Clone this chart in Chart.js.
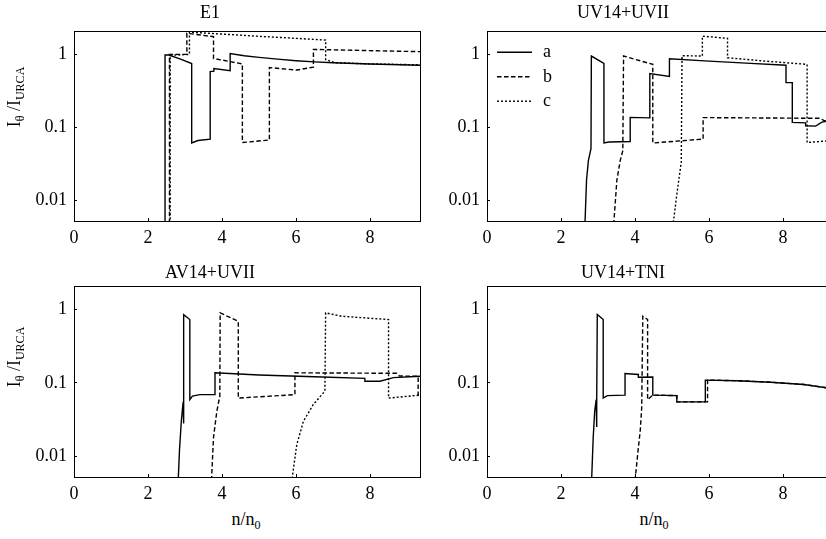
<!DOCTYPE html>
<html>
<head>
<meta charset="utf-8">
<script src="https://cdn.jsdelivr.net/npm/chart.js@4.4.0/dist/chart.umd.min.js"></script>
<style>
  html, body { margin: 0; padding: 0; background: #fff; overflow: hidden; }
  body { width: 826px; height: 539px; position: relative; font-family: "Liberation Serif", serif; color: #000; }
  canvas { position: absolute; }
  .ytitulo { position: absolute; font-size: 18px; line-height: 18px; white-space: nowrap;
             transform: translate(-50%, -50%) rotate(-90deg); }
  .xtitulo { position: absolute; font-size: 18px; line-height: 18px; white-space: nowrap;
             transform: translateX(-50%); }
  sub { font-size: 12px; vertical-align: -4px; line-height: 0; }
</style>
</head>
<body>
<canvas id="g1" width="421" height="249" style="left:0;top:0"></canvas>
<canvas id="g2" width="421" height="249" style="left:413px;top:0"></canvas>
<canvas id="g3" width="421" height="244" style="left:0;top:261px"></canvas>
<canvas id="g4" width="421" height="244" style="left:413px;top:261px"></canvas>

<div class="ytitulo" style="left:14px;top:97px">I<sub>θ</sub> /I<sub>URCA</sub></div>
<div class="ytitulo" style="left:14px;top:357px">I<sub>θ</sub> /I<sub>URCA</sub></div>
<div class="xtitulo" style="left:246px;top:510px">n/n<sub>0</sub></div>
<div class="xtitulo" style="left:654px;top:510px">n/n<sub>0</sub></div>

<script>
// curvas [n/n0, I_theta/I_URCA]
const e1A = [[2.46,0.002],[2.46,0.98],[2.56,0.98],[2.88,0.86],[3.18,0.75],[3.18,0.061],[3.35,0.066],[3.68,0.069],[3.68,0.58],[3.78,0.59],[3.78,0.64],[4.22,0.60],[4.22,1.03],[4.6,0.96],[5.0,0.91],[5.5,0.86],[6.0,0.82],[6.5,0.79],[7.0,0.77],[8.0,0.74],[9.35,0.71]];
const e1B = [[2.58,0.002],[2.58,1.0],[3.05,1.0],[3.05,1.95],[3.77,1.75],[3.77,0.88],[4.2,0.80],[4.55,0.74],[4.55,0.062],[5.28,0.067],[5.28,0.66],[6.02,0.61],[6.47,0.67],[6.47,1.17],[9.35,1.09]];
const e1C = [[2.60,0.002],[2.60,0.97],[3.12,1.0],[3.12,2.02],[4.0,1.90],[5.0,1.77],[6.0,1.66],[6.80,1.57],[6.80,0.85],[7.05,0.77],[8.0,0.74],[9.35,0.72]];

const uvA = [[2.64,0.003],[2.65,0.0052],[2.69,0.019],[2.74,0.035],[2.81,0.051],[2.82,0.95],[3.16,0.75],[3.16,0.061],[3.30,0.063],[3.87,0.064],[3.87,0.137],[4.40,0.135],[4.40,0.545],[4.93,0.50],[4.93,0.87],[6.0,0.81],[7.0,0.76],[8.08,0.71],[8.08,0.41],[8.25,0.41],[8.25,0.117],[8.61,0.115],[8.61,0.105],[8.88,0.104],[9.05,0.118],[9.35,0.125]];
const uvB = [[3.42,0.003],[3.43,0.0052],[3.51,0.019],[3.60,0.035],[3.67,0.048],[3.69,0.95],[4.48,0.73],[4.48,0.061],[5.84,0.069],[5.84,0.136],[9.0,0.133],[9.12,0.123],[9.35,0.122]];
const uvC = [[5.03,0.003],[5.04,0.0052],[5.12,0.011],[5.20,0.022],[5.25,0.033],[5.27,0.96],[5.82,0.95],[5.82,1.78],[6.50,1.66],[6.50,0.90],[7.5,0.81],[8.65,0.73],[8.65,0.062],[9.35,0.066]];

const avA = [[2.81,0.003],[2.82,0.0052],[2.85,0.012],[2.90,0.03],[2.95,0.055],[2.955,0.028],[2.965,0.06],[2.97,0.85],[3.13,0.73],[3.13,0.059],[3.2,0.066],[3.4,0.069],[3.81,0.069],[3.81,0.137],[5.0,0.128],[6.5,0.121],[7.86,0.115],[7.86,0.105],[8.27,0.105],[8.63,0.118],[9.35,0.123]];
const avB = [[3.71,0.003],[3.72,0.0052],[3.77,0.018],[3.86,0.041],[3.94,0.066],[3.95,0.90],[4.44,0.69],[4.44,0.062],[5.97,0.069],[5.97,0.137],[8.72,0.135],[8.80,0.124],[9.30,0.123],[9.30,0.068],[9.35,0.068]];
const avC = [[5.89,0.003],[5.90,0.0052],[6.02,0.0144],[6.20,0.030],[6.47,0.051],[6.78,0.077],[6.80,0.90],[7.23,0.81],[8.50,0.73],[8.50,0.062],[9.35,0.068]];

const tniA = [[2.82,0.003],[2.83,0.0052],[2.87,0.018],[2.91,0.041],[2.95,0.059],[2.96,0.025],[2.97,0.06],[2.98,0.855],[3.14,0.73],[3.14,0.062],[3.25,0.067],[3.73,0.068],[3.73,0.134],[4.09,0.13],[4.09,0.119],[4.48,0.12],[4.48,0.068],[5.13,0.067],[5.13,0.055],[5.90,0.055],[5.90,0.109],[6.76,0.107],[7.66,0.102],[8.56,0.095],[9.35,0.083]];
const tniB = [[4.00,0.003],[4.01,0.0052],[4.09,0.013],[4.14,0.022],[4.18,0.045],[4.21,0.81],[4.34,0.73],[4.34,0.059],[4.45,0.066],[4.48,0.068],[5.13,0.067],[5.13,0.055],[5.96,0.055],[5.96,0.109],[6.76,0.107],[7.66,0.102],[8.56,0.095],[9.35,0.083]];

const titulos = ["E1", "UV14+UVII", "AV14+UVII", "UV14+TNI"];
const etiquetas = ["a", "b", "c"];
const xTicks = [0, 2, 4, 6, 8];
const yTicks = [0.01, 0.1, 1];

const fuente = { family: "'Liberation Serif', serif", size: 18, weight: "normal" };
const trazos = [[], [4.5, 2.5], [2, 2]];

// marco completo alrededor del area del grafico
const marco = {
    id: "marco",
    afterDraw(chart) {
        const { ctx, chartArea } = chart;
        ctx.save();
        ctx.strokeStyle = "#000";
        ctx.lineWidth = 1;
        ctx.strokeRect(Math.round(chartArea.left) + 0.5, Math.round(chartArea.top) + 0.5,
            Math.round(chartArea.right - chartArea.left), Math.round(chartArea.bottom - chartArea.top));
        ctx.restore();
    }
};

// leyenda dentro del area (solo un panel)
const leyenda = {
    id: "leyenda",
    afterDraw(chart, args, opciones) {
        if (!opciones || !opciones.mostrar) return;
        const { ctx, chartArea } = chart;
        chart.data.datasets.forEach((ds, i) => {
            const y = chartArea.top + 21 + i * 24.5;
            ctx.save();
            ctx.strokeStyle = "#000";
            ctx.lineWidth = ds.borderWidth;
            ctx.setLineDash(ds.borderDash);
            ctx.beginPath();
            ctx.moveTo(chartArea.left + 10, y);
            ctx.lineTo(chartArea.left + 45, y);
            ctx.stroke();
            ctx.setLineDash([]);
            ctx.fillStyle = "#000";
            ctx.font = "18px 'Liberation Serif'";
            ctx.textBaseline = "alphabetic";
            ctx.fillText(ds.label, chartArea.left + 56, y + 5);
            ctx.restore();
        });
    }
};

function armarDatasets(curvas) {
    return curvas.map((puntos, i) => ({
        label: etiquetas[i],
        data: puntos.map(p => ({ x: p[0], y: p[1] })),
        borderColor: "#000",
        backgroundColor: "transparent",
        borderWidth: 1.4,
        borderDash: trazos[i],
        pointRadius: 0,
        tension: 0
    }));
}

function crearPanel(id, titulo, curvas, padTitulo, conLeyenda) {
    const ctx = document.getElementById(id).getContext("2d");
    return new Chart(ctx, {
        type: "line",
        data: { datasets: armarDatasets(curvas) },
        options: {
            responsive: false,
            animation: false,
            layout: { padding: { right: 1 } },
            plugins: {
                legend: { display: false },
                tooltip: { enabled: false },
                title: { display: true, text: titulo, color: "#000", font: fuente, padding: padTitulo },
                leyenda: { mostrar: conLeyenda }
            },
            scales: {
                x: {
                    type: "linear", min: 0, max: 9.35,
                    afterBuildTicks: s => { s.ticks = xTicks.map(v => ({ value: v })); },
                    afterFit: s => { s.height = 28; },
                    ticks: { font: fuente, color: "#000", padding: 9, maxRotation: 0, autoSkip: false, callback: v => String(v) },
                    grid: { drawOnChartArea: false, drawTicks: true, tickLength: -3, color: "#000" },
                    border: { color: "#000", width: 1 }
                },
                y: {
                    type: "logarithmic", min: 0.0052, max: 2.08,
                    afterBuildTicks: s => { s.ticks = yTicks.map(v => ({ value: v })); },
                    afterFit: s => { s.width = 74; },
                    ticks: { font: fuente, color: "#000", padding: 10, autoSkip: false, callback: v => String(v) },
                    grid: { drawOnChartArea: false, drawTicks: true, tickLength: -3, color: "#000" },
                    border: { color: "#000", width: 1 }
                }
            }
        },
        plugins: [marco, leyenda]
    });
}

const padArriba = { top: 2, bottom: 7.6 };
const padAbajo = { top: 1.8, bottom: 1.8 };

crearPanel("g1", titulos[0], [e1A, e1B, e1C], padArriba, false);
crearPanel("g2", titulos[1], [uvA, uvB, uvC], padArriba, true);
crearPanel("g3", titulos[2], [avA, avB, avC], padAbajo, false);
crearPanel("g4", titulos[3], [tniA, tniB], padAbajo, false);
</script>
</body>
</html>
